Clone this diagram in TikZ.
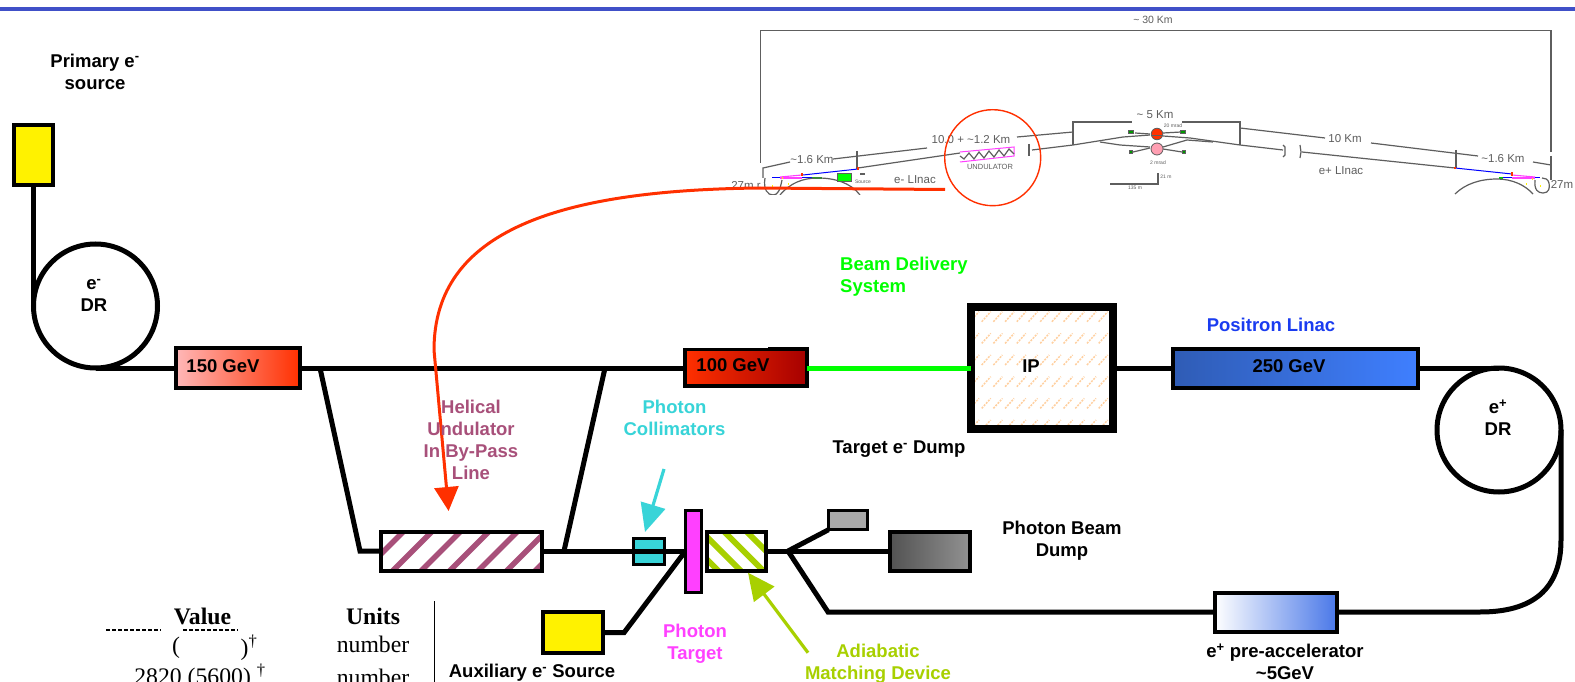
\documentclass[tikz,border=0pt]{standalone}
\usepackage{fontspec}
\setmainfont{Liberation Sans}
\newfontfamily\tms{Liberation Serif}
\usetikzlibrary{arrows.meta}
\definecolor{topblue}{HTML}{4050C8}
\definecolor{redl}{HTML}{FF3000}
\definecolor{mauve}{HTML}{A8507A}
\definecolor{cyn}{HTML}{38D4D8}
\definecolor{lime}{HTML}{A8D000}
\definecolor{magn}{HTML}{FF40FF}
\definecolor{posblue}{HTML}{1A3CF0}
\definecolor{sch}{HTML}{5E5E5E}
\definecolor{ipo}{HTML}{FFD0A0}
\definecolor{linacl}{HTML}{2F5CB5}
\definecolor{linacr}{HTML}{3F7FFF}
\definecolor{prer}{HTML}{4A78E8}
\newcommand{\tld}{\textasciitilde}
\tikzset{
  x=1pt,y=-1pt,
  beam/.style={line width=5pt,black,line cap=butt,line join=miter},
  boxn/.style={draw=black,line width=4pt,inner sep=0pt,outer sep=0pt,rectangle,font=\fontsize{18.5}{22}\selectfont\bfseries},
  ring/.style={draw=black,line width=5pt,circle,inner sep=0pt,outer sep=0pt,minimum size=124pt},
  lab/.style={align=center,inner sep=0pt,font=\fontsize{18.5}{22.2}\selectfont\bfseries},
  serif/.style={inner sep=0pt,font=\tms\fontsize{23.7}{28}\selectfont},
  schl/.style={draw=sch,line width=1.2pt},
  schw/.style={draw=sch,line width=1.4pt},
  scht/.style={inner sep=0pt,text=sch,font=\fontsize{11.5}{13}\selectfont},
  tiny/.style={inner sep=0pt,text=sch,font=\fontsize{5}{6}\selectfont},
  gbx/.style={draw=sch,fill=green!60!black,line width=.6pt,minimum width=5pt,minimum height=3pt,inner sep=0pt},
  bigred/.style={draw=redl,line width=3pt,-{Triangle[length=24pt,width=24pt,fill=redl]}},
  bigcyn/.style={draw=cyn,line width=3.2pt,-{Triangle[length=28pt,width=25pt,fill=cyn]}},
  biglim/.style={draw=lime,line width=3.2pt,-{Triangle[length=27pt,width=25pt,fill=lime]}}
}
\begin{document}
\begin{tikzpicture}
\useasboundingbox (0,0) rectangle (1575,682);
\clip (0,0) rectangle (1575,682);
\fill[white] (0,0) rectangle (1575,682);
\fill[topblue] (0,7) rectangle (1575,11.5);

% ---------- schematic at the top ----------
\begin{scope}
\clip (700,0) rectangle (1575,194.5);
\draw[schw] (760.7,163) -- (760.7,30.7) -- (1551,30.7) -- (1551,152);
\draw[schw] (1551,156) -- (1551,180);
\draw[schl] (763,178) -- (763,168) -- (790,162);
\draw[schl] (833,159) -- (927,148);
\draw[schl] (1017,137) -- (1073,132);
\draw[schl] (1073,145) -- (1073,122) -- (1132,122);
\draw[schl] (1182,122) -- (1240,122) -- (1240,145);
\draw[schl] (1240,128) -- (1325,138);
\draw[schl] (1371,143) -- (1478,156);
\draw[schl] (1533,162) -- (1551,165);
\draw[schl] (1456,150) -- (1456,168);
\draw[schl] (857,151) -- (857,169);
\draw[schl] (858,168) -- (960,153);
\draw[schl] (1032,150) -- (1073,145) -- (1123,137) -- (1150,135);
\draw[schl] (1100,142) -- (1120,145) -- (1150,147);
\draw[schl] (1135,133) -- (1150,134);
\draw[schl] (1150,148) -- (1133,152);
\draw[schl] (1029,144) -- (1029,156);
\draw[schl] (1163,136) -- (1190,138) -- (1240,145) -- (1283,150);
\draw[schl] (1163,147) -- (1187,140) -- (1213,142);
\draw[schl] (1163,133) -- (1181,132);
\draw[schl] (1163,149) -- (1182,152);
\draw[schl] (1283,145) -- (1285,147) -- (1285,155) -- (1283,157);
\draw[schl] (1300,145) -- (1301,152) -- (1300,158);
\draw[schl] (1302,152) -- (1455,168);
% undulator
\draw[magn,line width=1pt] (960,152) -- (1014,147) -- (1014,156) -- (960,162);
\draw[schl] (960,156) -- (964,159) -- (969,153) -- (974,159) -- (979,152) -- (984,158) -- (989,151) -- (994,157) -- (999,150) -- (1004,156) -- (1009,149) -- (1014,154);
% left end
\draw[blue,line width=1pt] (858,169) -- (803,175);
\draw[magn,line width=1.1pt] (802,175) -- (780,177);
\draw[magn,line width=1.1pt] (802,178) -- (780,178);
\draw[blue,line width=1pt] (772,178) -- (780,178);
\draw[blue,line width=1pt] (802,178) -- (812,178);
\draw[green!80!black,line width=1.2pt] (812,178) -- (822,178);
\draw[schl] (780,195) .. controls (790,183) and (803,178) .. (818,178) .. controls (835,178) and (851,183) .. (860,195);
\draw[schl] (765,178) .. controls (763,190) and (768,195) .. (773,195) .. controls (778,195) and (780,190) .. (782,180);
\fill[redl] (801,173) rectangle (803,176);
\fill[redl] (857,167.5) rectangle (859,170);
\fill[yellow] (771.5,185.5) rectangle (773,187);
\fill[yellow] (787.5,183.5) rectangle (789,185);
\fill[yellow] (781.5,177.5) rectangle (783,179);
\node[draw=sch,line width=.8pt,fill=green,minimum width=14pt,minimum height=8pt,inner sep=0pt,outer sep=0pt] (gbox) at (844,177) {};
\fill[sch] (860,173.5) rectangle (865,175);
% right end
\draw[blue,line width=1pt] (1455,168) -- (1512,174);
\draw[magn,line width=1.1pt] (1512,175) -- (1535,177);
\draw[magn,line width=1.1pt] (1512,178) -- (1535,178);
\draw[blue,line width=1pt] (1535,178) -- (1540,178);
\draw[blue,line width=1pt] (1503,178) -- (1512,178);
\fill[green!80!black] (1499,177) rectangle (1503,179);
\fill[redl] (1511,172.5) rectangle (1513,176);
\fill[redl] (1454,167) rectangle (1456,169);
\fill[yellow] (1525.5,183.5) rectangle (1527,185);
\fill[yellow] (1539.5,185.5) rectangle (1541,187);
\fill[yellow] (1531.5,178.5) rectangle (1533,180);
\draw[schl] (1455,194) .. controls (1465,184) and (1480,179) .. (1497,179) .. controls (1512,179) and (1525,185) .. (1533,194);
\draw[schl] (1535,180) .. controls (1534,190) and (1538,193) .. (1543,193) .. controls (1549,193) and (1550,188) .. (1549,183) .. controls (1548,179) and (1545,178) .. (1542,178);
% IP dots
\node[draw=sch,fill=redl,line width=.8pt,circle,minimum size=11.5pt,inner sep=0pt] (redip) at (1157,134) {};
\draw[sch,line width=.8pt] (1152,135) -- (1162,135);
\node[draw=sch,fill=magn!25!red!40!white,line width=.8pt,circle,minimum size=12pt,inner sep=0pt] (pinkip) at (1157,149) {};
\node[gbx] (g1) at (1131,132) {};
\node[gbx] (g2) at (1183,132) {};
\node[gbx,minimum width=3pt] (g3) at (1131,152) {};
\node[gbx,minimum width=3pt] (g4) at (1184,152) {};
\draw[schl] (1110,184) -- (1158,184) -- (1158,173);
\end{scope}
\node[scht,font=\fontsize{10.5}{12}\selectfont] (t30) at (1153,20) {\tld\ 30 Km};
\node[scht] (t16a) at (812,160) {\tld 1.6 Km};
\node[scht] (t10a) at (971,140) {10.0 + \tld 1.2 Km};
\node[scht] (t5) at (1155,115) {\tld\ 5 Km};
\node[scht] (t10b) at (1345,139) {10 Km};
\node[scht] (t16b) at (1503,159) {\tld 1.6 Km};
\node[scht] (t27a) at (746,185) {27m r};
\node[scht] (t27b) at (1562,184) {27m};
\node[scht] (tlin1) at (915,180) {e- LInac};
\node[scht] (tlin2) at (1341,171) {e+ LInac};
\node[scht,font=\fontsize{7.5}{9}\selectfont] (tund) at (990,166.5) {UNDULATOR};
\node[tiny] (tsrc) at (863,182) {Source};
\node[tiny] (t20) at (1173,126) {20 mrad};
\node[tiny] (t2) at (1158,163) {2 mrad};
\node[tiny] (t135) at (1135,188) {135 m};
\node[tiny] (t21) at (1166,177) {21 m};
\node[draw=redl,line width=1.4pt,circle,minimum size=96pt,inner sep=0pt] (redring) at (992.7,157.7) {};

% ---------- boxes ----------
\node[boxn,fill=yellow,minimum width=39pt,minimum height=60pt] (ps) at (33.5,155) {};
\node[ring] (edr) at (95.5,306) {};
\node[boxn,left color=red!28!white,right color=redl,minimum width=124pt,minimum height=40pt] (g150) at (238,368) {};
\node[boxn,left color=redl,right color=red!65!black,minimum width=122pt,minimum height=37pt] (g100) at (746,367.5) {};
\node[draw=black,line width=8pt,minimum width=142pt,minimum height=122pt,inner sep=0pt,outer sep=0pt,fill=white] (ip) at (1042,368) {};
\node[boxn,left color=linacl,right color=linacr,minimum width=245pt,minimum height=39pt] (g250) at (1295.5,368) {};
\node[ring] (pdr) at (1499,430) {};
\node[boxn,fill=white,minimum width=161pt,minimum height=39pt] (und) at (461,551) {};
\node[boxn,fill=cyn,minimum width=31pt,minimum height=26pt,line width=3pt] (coll) at (649,551) {};
\node[boxn,fill=magn,minimum width=16pt,minimum height=82pt,line width=3pt] (tgt) at (693.5,551) {};
\node[boxn,fill=white,minimum width=59pt,minimum height=39pt] (amd) at (736,551) {};
\node[boxn,fill=white,left color=black!68,right color=black!43,minimum width=80pt,minimum height=39pt] (dump) at (929.5,551) {};
\node[boxn,fill=black!34,minimum width=39pt,minimum height=19.5pt,line width=3pt] (small) at (848,520) {};
\node[boxn,fill=yellow,minimum width=60pt,minimum height=41pt] (aux) at (573,632.5) {};
\node[boxn,left color=white,right color=prer,minimum width=122pt,minimum height=39pt] (pre) at (1275.5,612) {};

% hatches
\begin{scope}
\clip (und.north west) rectangle (und.south east);
\foreach \k in {-1,...,9} \draw[mauve,line width=5.5pt] (359+\k*28.5,576) -- (359+\k*28.5+50,526);
\end{scope}
\begin{scope}
\clip (amd.north west) rectangle (amd.south east);
\foreach \k in {-3,...,3} \draw[lime,line width=6pt] (718.5+\k*22.5,526) -- (718.5+\k*22.5+50,576);
\end{scope}
\begin{scope}
\clip (ip.north west) rectangle (ip.south east);
\foreach \r in {316.7,338.4,360,381.7,403.4,425}
  \foreach \k in {0,...,12}
    \draw[ipo,line width=1.5pt,dash pattern=on 2pt off 1.2pt] (970+\k*11.7,\r+5) -- (970+\k*11.7+9,\r-5);
\end{scope}
\draw[boxn] (und.north west) rectangle (und.south east);
\draw[boxn] (amd.north west) rectangle (amd.south east);
\draw[draw=black,line width=8pt] (ip.north west) rectangle (ip.south east);
\draw[white,line width=.9pt] (683,347.5) -- (768,347.5);

% ---------- connectors ----------
\coordinate (j1) at (320,368);
\coordinate (j2) at (605,368);
\coordinate (j3) at (360,551);
\coordinate (j4) at (564,551);
\coordinate (j5) at (788,551);
\coordinate (j6) at (828,612);
\coordinate (j7) at (624,632.7);
\coordinate (j8) at (684,553);
\coordinate (j9) at (1561,540);
\coordinate (j10) at (1480,612);
\coordinate (b1) at (33.5,306);
\draw[beam] (ps.south) -- (b1);
\draw[beam] (edr.south) -- (g150.west);
\draw[beam] (g150.east) -- (g100.west |- g150.east);
\draw[beam] (j1) -- (j3) -- (und.west);
\draw[beam] (j2) -- (j4);
\draw[beam] (und.east) -- (coll.west);
\draw[beam] (coll.west) -- (coll.east);
\draw[beam] (coll.east) -- (tgt.west);
\draw[beam] (amd.east) -- (j5);
\draw[beam] (j5) -- (dump.west);
\draw[beam] (j5) -- (small.south west);
\draw[beam] (j5) -- (j6) -- (pre.west);
\draw[beam] (aux.east) -- (j7) -- (j8);
\draw[line width=5pt,green] (g100.east |- ip.west) -- (ip.west);
\draw[beam] (ip.east) -- (g250.west);
\draw[beam] (g250.east) -- (pdr.north);
\draw[beam] (pdr.east) -- (j9) .. controls (1561,590) and (1532,612) .. (j10) -- (pre.east);
\coordinate (r0) at (945,189.5);
\coordinate (r1) at (760,188);
\coordinate (r2) at (434,350);
\coordinate (r3) at (448.6,511);
\draw[bigred] (r0) -- (r1) .. controls (560,190) and (434,230) .. (r2) -- (r3);
\coordinate (c0) at (664,469);
\coordinate (c1) at (645,532);
\draw[bigcyn] (c0) -- (c1);
\coordinate (a0) at (808,652.7);
\coordinate (a1) at (748,572.7);
\draw[biglim] (a0) -- (a1);

% ---------- labels ----------
\node[lab] (lprim) at (95,71.5) {Primary e\textsuperscript{-}\\source};
\node[lab] (ledr) at (94,295.5) {e\textsuperscript{-}\\DR};
\node[lab] (l150) at (223,366) {150 GeV};
\node[lab] (l100) at (733,365) {100 GeV};
\node[lab] (lip) at (1031,366) {IP};
\node[lab] (l250) at (1289,366) {250 GeV};
\node[lab] (lpdr) at (1498,417.5) {e\textsuperscript{+}\\DR};
\node[lab,text=mauve] (lhel) at (471,440) {Helical\\Undulator\\In By-Pass\\Line};
\node[lab,text=cyn] (lcol) at (674.5,418) {Photon\\Collimators};
\node[lab,text=green,align=left,anchor=west] (lbds) at (840,277) {Beam Delivery\\System};
\node[lab] (ltd) at (899,449) {Target e\textsuperscript{-} Dump};
\node[lab,text=posblue] (lpos) at (1271,325) {Positron Linac};
\node[lab] (lpbd) at (1062,541) {Photon Beam\\Dump};
\node[lab,text=magn] (lpt) at (695,644) {Photon\\Target};
\node[lab,text=lime] (lamd) at (878,664) {Adiabatic\\Matching Device};
\node[lab] (laux) at (532,673) {Auxiliary e\textsuperscript{-} Source};
\node[lab] (lpre) at (1285,662) {e\textsuperscript{+} pre-accelerator\\\tld 5GeV};

% ---------- table fragment ----------
\draw[black,line width=1.2pt,dash pattern=on 4pt off 2pt] (106,630) -- (161,630);
\draw[black,line width=1.2pt,dash pattern=on 4pt off 2pt] (183,630) -- (238,630);
\node[serif,font=\tms\bfseries\fontsize{23.7}{28}\selectfont] (tv) at (202.5,616) {Value};
\node[serif,font=\tms\bfseries\fontsize{23.7}{28}\selectfont] (tu) at (373,616) {Units};
\node[serif] (tb1) at (176,648) {(};
\node[serif] (tb2) at (249,648) {)\textsuperscript{†}};
\node[serif] (tn1) at (373,644) {number};
\node[serif] (t28) at (200,677) {2820 (5600) \textsuperscript{†}};
\node[serif] (tn2) at (373,677) {number};
\coordinate (vt) at (434.6,601);
\coordinate (vb) at (434.6,682);
\draw[black,line width=.9pt] (vt) -- (vb);
\end{tikzpicture}
\end{document}
